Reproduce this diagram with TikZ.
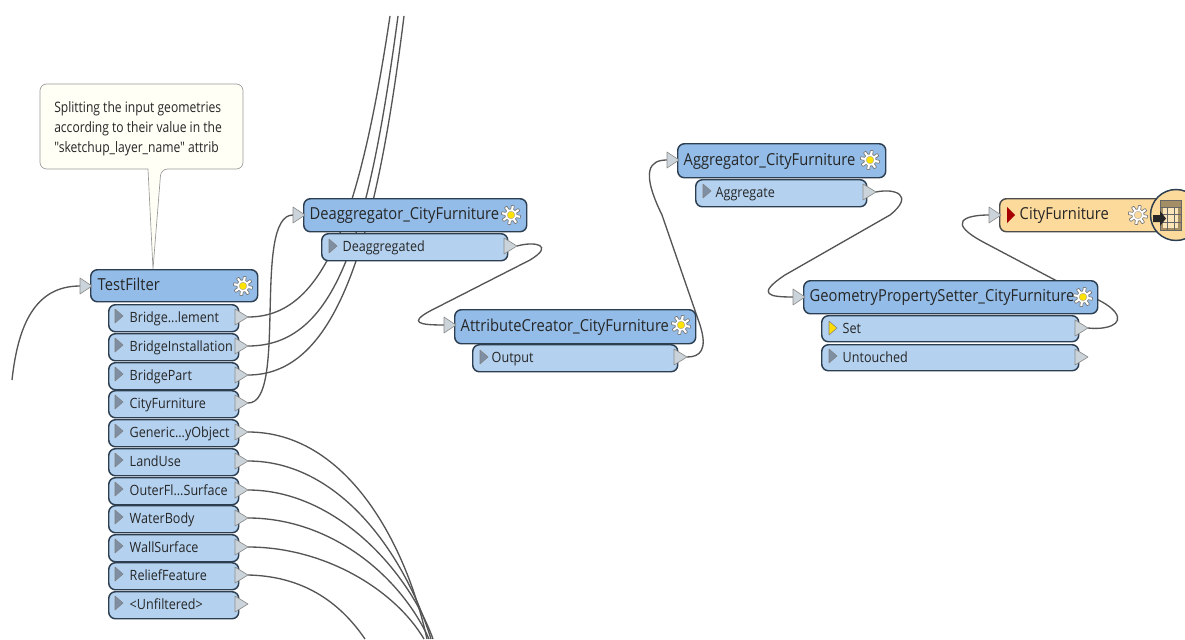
\documentclass[tikz,border=0pt]{standalone}
\usepackage{fontspec}
\setmainfont{Liberation Sans}
\newfontfamily\uifont[FakeStretch=0.89]{Open Sans}
\newfontfamily\notefont[FakeStretch=0.84]{Open Sans}
\usetikzlibrary{backgrounds}
\definecolor{headblue}{HTML}{93BDE8}
\definecolor{portblue}{HTML}{B4D2F0}
\definecolor{edgedark}{HTML}{2C3E50}
\definecolor{wire}{HTML}{555555}
\definecolor{tripale}{HTML}{CBD4DA}
\definecolor{trimark}{HTML}{7F8FA3}
\definecolor{writerfill}{HTML}{FCDA9C}
\definecolor{notefill}{HTML}{FFFFF6}
\newlength{\boxw}\newlength{\boxh}
\tikzset{
  x=0.75pt,y=-0.75pt,
  box/.style={draw=edgedark,line width=1.1pt,rounded corners=5pt,inner sep=0pt,anchor=north west,font=\uifont,text=black!85},
  headbox/.style={box,fill=headblue},
  portbox/.style={box,fill=portblue},
  writerbox/.style={box,fill=writerfill,draw=black!70},
  wireline/.style={draw=wire,line width=1pt},
  tripath/.style={fill=tripale,draw=black!45,line width=0.5pt,line join=round},
  pics/cog/.style={code={
    \draw[draw=black!55,fill=white,line width=0.5pt,line join=round]
      plot[domain=0:360,samples=129] ({(7.8+1.9*max(-1,min(1,2.4*sin(8*\x)))))*cos(\x)},{(7.8+1.9*max(-1,min(1,2.4*sin(8*\x))))*sin(\x)}) -- cycle;
    \draw[draw=black!35,fill=#1,line width=0.3pt] (0,0) circle (3.8);
  }},
  pics/cog/.default={yellow!85!orange},
}
% name, x1, y1, x2, y2, text, style, text inset
\newcommand{\blockbox}[8]{%
  \setlength{\boxw}{\dimexpr #4pt*3/4-#2pt*3/4\relax}%
  \setlength{\boxh}{\dimexpr #5pt*3/4-#3pt*3/4\relax}%
  \node[#7,minimum width=\boxw,minimum height=\boxh] (#1) at (#2,#3)
    {\makebox[\boxw][l]{\hspace*{\dimexpr #8pt*3/4\relax}\rule[-3pt]{0pt}{13pt}#6}};%
}
\newcommand{\outtri}[3]{%
  \coordinate (#1) at (#2,#3);
  \draw[tripath] (#1) -- ++(-13,-8) -- ++(0,16) -- cycle;
}
\newcommand{\intri}[3]{%
  \coordinate (#1) at (#2,#3);
  \draw[tripath] (#1) -- ++(-12,-8) -- ++(0,16) -- cycle;
}
\newcommand{\portmark}[3]{\draw[fill=#3,draw=black!50,line width=0.4pt,line join=round] (#1,#2) ++(0,-7) -- ++(8,7) -- ++(-8,7) -- cycle;}
\begin{document}
\begin{tikzpicture}
\useasboundingbox (0,0) rectangle (1185,639);

% free ends
\coordinate (inStart) at (12,380);
\coordinate (topA) at (390,16);
\coordinate (topB) at (398,16);
\coordinate (topC) at (404,16);
\coordinate (botA) at (424,639);
\coordinate (botB) at (427,639);
\coordinate (botC) at (429,639);
\coordinate (botD) at (431,639);
\coordinate (botE) at (433,639);
\coordinate (botF) at (365,639);

% TestFilter
\blockbox{tf}{90}{269}{257}{301}{\fontsize{12.4}{14}\selectfont TestFilter}{headbox}{7}
\pic at (243,286) {cog};
\intri{tfin}{92}{286}
\foreach \nm/\yy/\lbl in {
  p1/304/{Bridge...lement},
  p2/333/{BridgeInstallation},
  p3/362/{BridgePart},
  p4/390/{CityFurniture},
  p5/419/{Generic...yObject},
  p6/448/{LandUse},
  p7/477/{OuterFl...Surface},
  p8/505/{WaterBody},
  p9/534/{WallSurface},
  p10/562/{ReliefFeature},
  p11/591/{<Unfiltered>}}{
  \pgfmathtruncatemacro{\yb}{\yy+27}
  \pgfmathtruncatemacro{\yt}{\yy+13}
  \pgfmathtruncatemacro{\ym}{\yy+12}
  \blockbox{\nm}{108}{\yy}{238}{\yb}{\fontsize{10.6}{12}\selectfont \lbl}{portbox}{21}
  \portmark{115}{\ym}{trimark}
  \outtri{\nm o}{248}{\yt}
}

% Deaggregator
\blockbox{de}{303}{198}{526}{231}{\fontsize{12.4}{14}\selectfont Deaggregator\_CityFurniture}{headbox}{6}
\pic at (511,215) {cog};
\intri{dein}{305}{215}
\blockbox{deo}{321}{233}{507}{260}{\fontsize{10.6}{12}\selectfont Deaggregated}{portbox}{21}
\portmark{329}{246}{trimark}
\outtri{deot}{517}{246}

% AttributeCreator
\blockbox{ac}{454}{309}{695}{343}{\fontsize{12.4}{14}\selectfont AttributeCreator\_CityFurniture}{headbox}{6}
\pic at (681,325) {cog};
\intri{acin}{456}{325}
\blockbox{aco}{472}{344}{677}{371}{\fontsize{10.6}{12}\selectfont Output}{portbox}{19}
\portmark{480}{357}{trimark}
\outtri{acot}{687}{357}

% Aggregator
\blockbox{ag}{677}{143}{885}{177}{\fontsize{12.4}{14}\selectfont Aggregator\_CityFurniture}{headbox}{6}
\pic at (870,160) {cog};
\intri{agin}{679}{160}
\blockbox{ago}{695}{179}{866}{206}{\fontsize{10.6}{12}\selectfont Aggregate}{portbox}{20}
\portmark{703}{191}{trimark}
\outtri{agot}{876}{192}

% GeometryPropertySetter
\blockbox{gp}{803}{280}{1097}{313}{\fontsize{12.4}{14}\selectfont GeometryPropertySetter\_CityFurniture}{headbox}{6}
\pic at (1083,297) {cog};
\intri{gpin}{805}{297}
\blockbox{gps}{821}{315}{1078}{341}{\fontsize{10.6}{12}\selectfont Set}{portbox}{21}
\portmark{829}{328}{yellow!80!orange}
\outtri{gpst}{1088}{328}
\blockbox{gpu}{821}{344}{1078}{370}{\fontsize{10.6}{12}\selectfont Untouched}{portbox}{21}
\portmark{829}{356}{trimark}
\outtri{gput}{1088}{357}

% Writer
\blockbox{wr}{999}{198}{1162}{231}{\fontsize{12.4}{14}\selectfont CityFurniture}{writerbox}{20}
\draw[fill=red!65!black,draw=none] (1007,207) -- (1015,215) -- (1007,223) -- cycle;
\pic at (1138,215) {cog=writerfill};
\intri{wrin}{1001}{215}
\begin{scope}
\clip (0,0) rectangle (1185,639);
\draw[fill=writerfill,draw=edgedark,line width=1.1pt] (1176,215) circle (25.5);
\fill[black!35!writerfill] (1160,200) rectangle (1181,230);
\fill[writerfill!70!white] (1163,207) rectangle (1178,228);
\draw[black!60,line width=0.45pt] (1160,200) rectangle (1181,230)
  (1160,207) -- (1181,207) (1160,214) -- (1181,214) (1160,222) -- (1181,222)
  (1167,207) -- (1167,230) (1174,207) -- (1174,230);
\fill[black!85] (1153,215) rectangle (1160,222) (1160,211) -- (1166,218.5) -- (1160,226) -- cycle;
\end{scope}

% Note
\draw[draw=black!40,fill=notefill,line width=0.5pt,rounded corners=5pt]
  (40,84) -- (243,84) -- (243,169) -- (161,169) [sharp corners] -- (153,269) -- (148,169) [rounded corners=5pt] -- (40,169) -- cycle;
\node[anchor=north west,inner sep=0pt,font=\notefont\fontsize{10.8}{15}\selectfont,align=left,text=black!85] (note) at (54,101)
  {Splitting the input geometries\\according to their value in the\\"sketchup\_layer\_name" attrib};

\begin{scope}[on background layer]
\fill[white] (0,0) rectangle (1185,639);
\path[wireline] (inStart) .. controls (18,325) and (35,286) .. (80,286);
\path[wireline] (p1o) .. controls (320,317) and (358,230) .. (topA);
\path[wireline] (p2o) .. controls (335,346) and (368,240) .. (topB);
\path[wireline] (p3o) .. controls (335,375) and (375,250) .. (topC);
\path[wireline] (p4o) .. controls (288,404) and (252,215) .. (293,215);
\path[wireline] (p5o) .. controls (345,432) and (405,540) .. (botB);
\path[wireline] (p6o) .. controls (340,461) and (405,555) .. (botD);
\path[wireline] (p7o) .. controls (335,490) and (408,570) .. (botE);
\path[wireline] (p8o) .. controls (330,518) and (400,575) .. (botC);
\path[wireline] (p9o) .. controls (325,547) and (395,590) .. (botA);
\path[wireline] (p10o) .. controls (295,576) and (335,595) .. (botF);
\path[wireline] (deot) .. controls (535,241) and (555,245) .. (530,260)
  -- (430,311) .. controls (408,323) and (420,325) .. (444,325);
\path[wireline] (acot) .. controls (700,357) and (708,350) .. (700,325)
  -- (662,215) .. controls (640,170) and (650,160) .. (667,160);
\path[wireline] (agot) .. controls (895,188) and (915,195) .. (890,215)
  -- (785,275) .. controls (755,295) and (770,297) .. (793,297);
\path[wireline] (gpst) .. controls (1105,330) and (1125,325) .. (1115,312)
  .. controls (1105,300) and (1085,295) .. (1055,280)
  -- (985,243) .. controls (945,222) and (965,215) .. (989,215);
\end{scope}
\end{tikzpicture}
\end{document}
